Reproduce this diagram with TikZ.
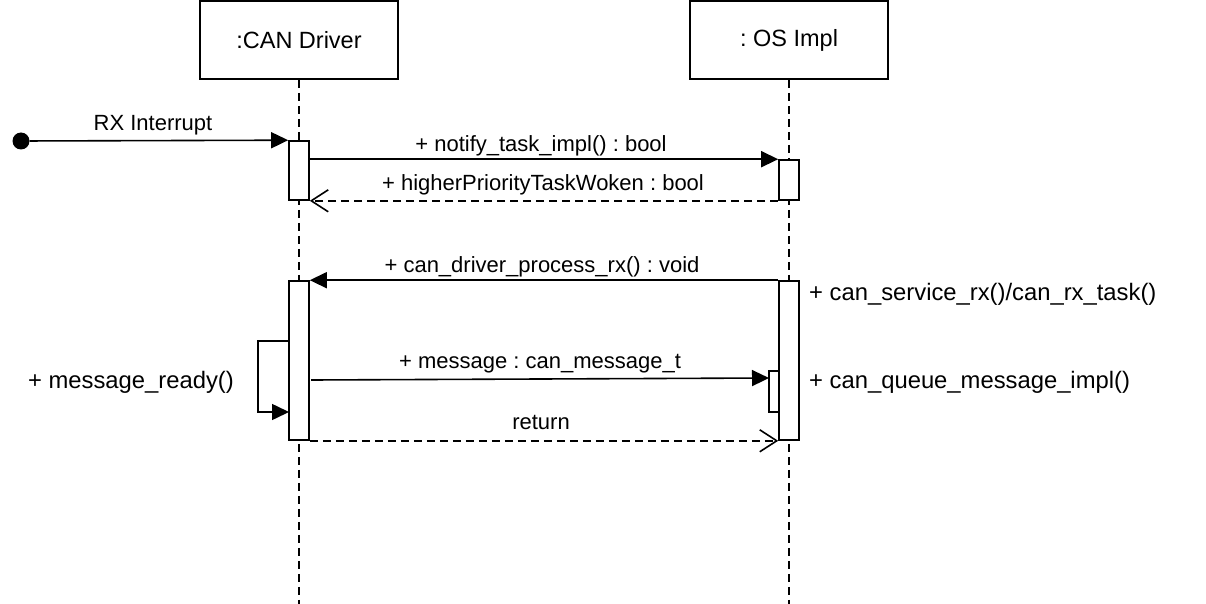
\documentclass[tikz,border=0pt]{standalone}
\usepackage{fontspec}
\setmainfont{Liberation Sans}
\usetikzlibrary{arrows.meta,calc}
\frenchspacing
\begin{document}
\begin{tikzpicture}[x=1pt,y=-1pt,
  lw/.style={line width=1.6pt},
  objbox/.style={draw,lw,minimum width=198pt,minimum height=78pt,inner sep=0pt,font=\fontsize{23.5}{26}\selectfont},
  actbox/.style={draw,lw,fill=white,inner sep=0pt},
  life/.style={lw,dash pattern=on 8pt off 5pt},
  msg/.style={lw,-{Triangle[length=17pt,width=16pt]}},
  retmsg/.style={lw,dash pattern=on 8pt off 5pt,-{Straight Barb[length=17pt,width=22pt,line width=1.6pt]}},
  lbl/.style={inner sep=0pt,anchor=base,font=\fontsize{22}{26}\selectfont},
  lblr/.style={lbl,anchor=base west,font=\fontsize{23.8}{26}\selectfont},
  lbll/.style={lbl,anchor=base east,font=\fontsize{23.8}{26}\selectfont}
]
\useasboundingbox (0,0) rectangle (1206,604);
% objects
\node[objbox] (can) at (299,40) {:CAN Driver};
\node[objbox] (os) at (789,40) {: OS Impl};
\coordinate (canend) at (299,604);
\coordinate (osend) at (789,604);
\draw[life] (can.south) -- (canend);
\draw[life] (os.south) -- (osend);
% activations
\node[actbox,minimum width=20pt,minimum height=59pt] (a1) at (299,170.5) {};
\node[actbox,minimum width=20pt,minimum height=40pt] (b1) at (789,180) {};
\node[actbox,minimum width=20pt,minimum height=159pt] (a2) at (299,360.5) {};
\node[actbox,minimum width=20pt,minimum height=159pt] (b2) at (789,360.5) {};
\node[actbox,minimum width=10pt,minimum height=41pt] (b3) at (774,391.5) {};
% start point
\node[circle,fill=black,inner sep=0pt,minimum size=17pt] (start) at (21,141) {};
% messages
\draw[msg] (start) -- (a1.north west);
\draw[msg] (a1.east |- b1.north) -- (b1.north west);
\draw[retmsg] (b1.south west) -- (a1.east |- b1.south);
\draw[msg] (b2.north west) -- (a2.north east);
\coordinate (m1) at (311,380);
\coordinate (m2) at (769,378);
\draw[msg] (m1) -- (m2);
\coordinate (l1) at (289,341);
\coordinate (l2) at (289,412);
\draw[msg] (l1) -- ++(-31,0) |- (l2);
\draw[retmsg] (a2.south east) -- (b2.south west);
% labels
\node[lbl] (t1) at (153,131) {RX Interrupt};
\node[lbl] (t2) at (541,152) {+ notify\_task\_impl() : bool};
\node[lbl] (t3) at (543,190) {+ higherPriorityTaskWoken : bool};
\node[lbl] (t4) at (542,272) {+ can\_driver\_process\_rx() : void};
\node[lbl] (t5) at (540,368) {+ message : can\_message\_t};
\node[lbl] (t6) at (541,429) {return};
\node[lblr] (t7) at (809,300) {+ can\_service\_rx()/can\_rx\_task()};
\node[lblr] (t8) at (809,388) {+ can\_queue\_message\_impl()};
\node[lbll] (t9) at (234,388) {+ message\_ready()};
\end{tikzpicture}
\end{document}
